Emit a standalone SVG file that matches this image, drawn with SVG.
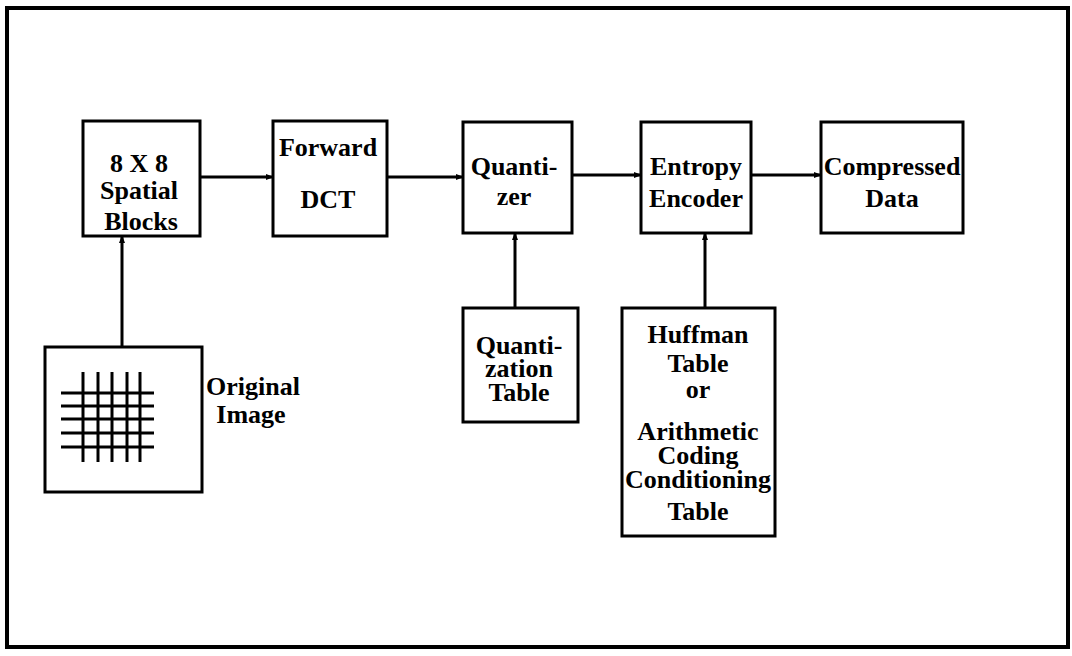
<svg xmlns="http://www.w3.org/2000/svg" width="1072" height="656" viewBox="0 0 1072 656">
<style>
.box{fill:#fff;stroke:#000;stroke-width:3}
.t{font-family:"Liberation Serif",serif;font-weight:bold;font-size:26px;fill:#000;text-anchor:middle}
.c{stroke:#000;stroke-width:3;fill:none}
.g{stroke:#000;stroke-width:3}
</style>
<defs>
<marker id="ah" markerWidth="8" markerHeight="8" refX="7" refY="4" orient="auto" markerUnits="userSpaceOnUse">
<path d="M0,1 L8,4 L0,7 Z" fill="#000"/>
</marker>
</defs>
<rect x="0" y="0" width="1072" height="656" fill="#fff"/>
<rect x="7" y="8" width="1061" height="639" fill="none" stroke="#000" stroke-width="4"/>
<g id="connectors">
<line class="c" x1="200" y1="177" x2="273" y2="177" marker-end="url(#ah)"/>
<line class="c" x1="387" y1="177" x2="463" y2="177" marker-end="url(#ah)"/>
<line class="c" x1="572" y1="175" x2="641" y2="175" marker-end="url(#ah)"/>
<line class="c" x1="751" y1="175" x2="821" y2="175" marker-end="url(#ah)"/>
<line class="c" x1="122" y1="347" x2="122" y2="236" marker-end="url(#ah)"/>
<line class="c" x1="515" y1="308" x2="515" y2="233" marker-end="url(#ah)"/>
<line class="c" x1="705" y1="308" x2="705" y2="233" marker-end="url(#ah)"/>
</g>
<g id="spatial">
<rect class="box" x="83" y="121" width="117" height="115"/>
<text class="t" x="139" y="172">8 X 8</text>
<text class="t" x="139" y="199">Spatial</text>
<text class="t" x="141" y="230">Blocks</text>
</g>
<g id="dct">
<rect class="box" x="273" y="121" width="114" height="115"/>
<text class="t" x="328" y="156">Forward</text>
<text class="t" x="328" y="208">DCT</text>
</g>
<g id="quantizer">
<rect class="box" x="463" y="122" width="109" height="111"/>
<text class="t" x="514" y="175">Quanti-</text>
<text class="t" x="514" y="205">zer</text>
</g>
<g id="entropy">
<rect class="box" x="641" y="122" width="110" height="111"/>
<text class="t" x="696" y="175">Entropy</text>
<text class="t" x="696" y="207">Encoder</text>
</g>
<g id="compressed">
<rect class="box" x="821" y="122" width="142" height="111"/>
<text class="t" x="892" y="175">Compressed</text>
<text class="t" x="892" y="207">Data</text>
</g>
<g id="original">
<rect class="box" x="45" y="347" width="157" height="145"/>
<line class="g" x1="83" y1="372" x2="83" y2="462"/>
<line class="g" x1="98" y1="372" x2="98" y2="462"/>
<line class="g" x1="112" y1="372" x2="112" y2="462"/>
<line class="g" x1="127" y1="372" x2="127" y2="462"/>
<line class="g" x1="140" y1="372" x2="140" y2="462"/>
<line class="g" x1="61" y1="393" x2="154" y2="393"/>
<line class="g" x1="61" y1="406" x2="154" y2="406"/>
<line class="g" x1="61" y1="419" x2="154" y2="419"/>
<line class="g" x1="61" y1="433" x2="154" y2="433"/>
<line class="g" x1="61" y1="447" x2="154" y2="447"/>
<text class="t" x="253" y="395">Original</text>
<text class="t" x="251" y="423">Image</text>
</g>
<g id="qtable">
<rect class="box" x="463" y="308" width="115" height="114"/>
<text class="t" x="519" y="354">Quanti-</text>
<text class="t" x="519" y="377">zation</text>
<text class="t" x="519" y="401">Table</text>
</g>
<g id="htable">
<rect class="box" x="622" y="308" width="153" height="228"/>
<text class="t" x="698" y="343">Huffman</text>
<text class="t" x="698" y="372">Table</text>
<text class="t" x="698" y="398">or</text>
<text class="t" x="698" y="440">Arithmetic</text>
<text class="t" x="698" y="464">Coding</text>
<text class="t" x="698" y="488">Conditioning</text>
<text class="t" x="698" y="520">Table</text>
</g>
</svg>
